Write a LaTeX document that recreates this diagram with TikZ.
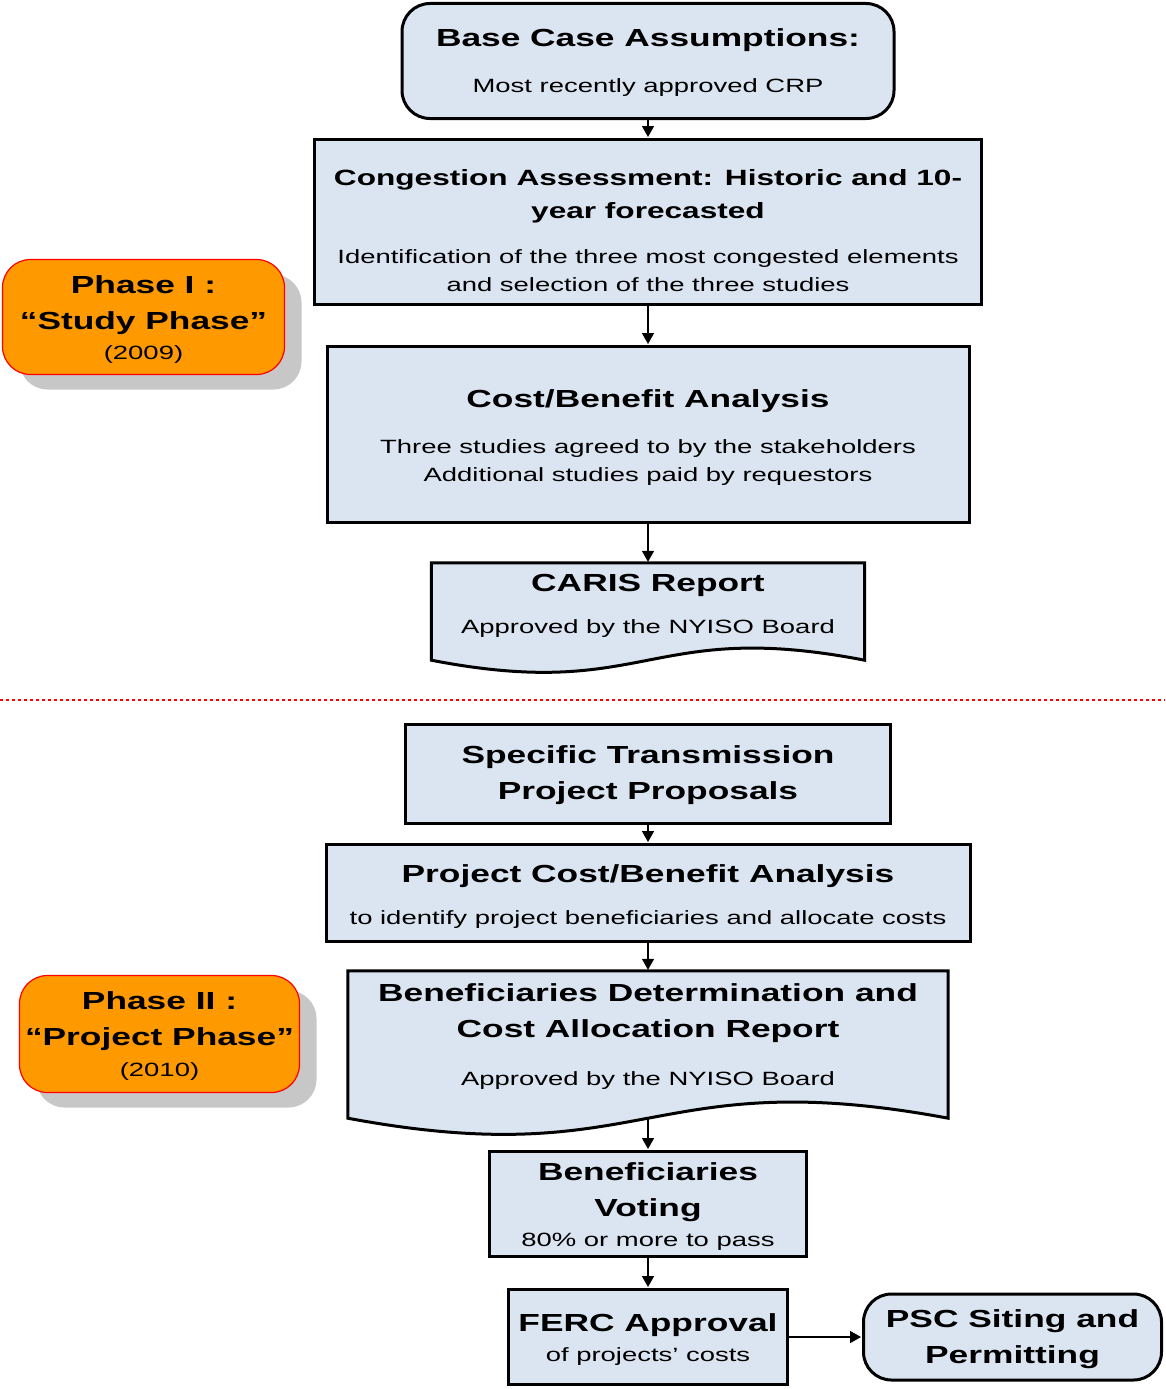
\documentclass[tikz,border=0pt]{standalone}
\usepackage{fontspec}
\setmainfont{Liberation Sans}[FakeStretch=1.43]
\usetikzlibrary{arrows.meta,shadows}

\definecolor{boxblue}{RGB}{219,229,241}
\definecolor{phaseorange}{RGB}{255,153,0}
\newcommand{\ttl}[1]{{\bfseries\fontsize{24.7}{36}\selectfont #1}}
\newcommand{\ttlsm}[1]{{\bfseries\fontsize{22.1}{33}\selectfont #1}}

\tikzset{
  box/.style={draw=black, line width=3pt, fill=boxblue, inner sep=0pt},
  roundbox/.style={box, rounded corners=28pt},
  docbox/.style={inner sep=0pt},
  docshape/.style={draw=black, line width=3pt, fill=boxblue},
  phasebox/.style={draw=red, line width=1.2pt, fill=phaseorange, rounded corners=28pt, inner sep=0pt,
    drop shadow={shadow xshift=17pt, shadow yshift=-15pt, fill=black!22, opacity=1}},
  txt/.style={align=center, inner sep=0pt, anchor=north, font=\fontsize{19.2}{28}\selectfont},
  arr/.style={-{Triangle[length=11pt,width=12pt]}, line width=1.5pt, shorten >=1pt},
  sepline/.style={red, line width=2pt, dash pattern=on 3pt off 3pt},
}

\begin{document}
\begin{tikzpicture}[x=1pt, y=-1pt]
  \useasboundingbox (0,0) rectangle (1165,1389);

  % --- phase labels ---
  \node[phasebox, minimum width=282pt, minimum height=115pt] (ph1) at (143.5,317) {};
  \node[phasebox, minimum width=280pt, minimum height=117pt] (ph2) at (159.5,1034) {};

  % --- study phase ---
  \node[roundbox, minimum width=492pt, minimum height=115pt] (base) at (648,61) {};
  \node[box, minimum width=667pt, minimum height=165pt] (cong) at (648,222) {};
  \node[box, minimum width=642pt, minimum height=176pt] (cba) at (648,434.5) {};
  \node[docbox, minimum width=433pt, minimum height=97pt] (caris) at (648,611.5) {};
  \draw[docshape] (caris.south west) -- (caris.north west) -- (caris.north east) -- (caris.south east)
    .. controls ([yshift=42pt]caris.south) and ([yshift=-42pt]caris.south) .. (caris.south west) -- cycle;

  % --- separator ---
  \draw[sepline] (0,700) -- (1165,700);

  % --- project phase ---
  \node[box, minimum width=485pt, minimum height=99pt] (spec) at (648,774) {};
  \node[box, minimum width=644pt, minimum height=97pt] (pcba) at (648,893) {};
  \node[docbox, minimum width=600pt, minimum height=147pt] (bdet) at (648,1044.5) {};
  \draw[docshape] (bdet.south west) -- (bdet.north west) -- (bdet.north east) -- (bdet.south east)
    .. controls ([yshift=56pt]bdet.south) and ([yshift=-56pt]bdet.south) .. (bdet.south west) -- cycle;
  \node[box, minimum width=317pt, minimum height=105pt] (vote) at (648,1204) {};
  \node[box, minimum width=279pt, minimum height=95pt] (ferc) at (648,1337) {};
  \node[roundbox, minimum width=298pt, minimum height=86pt] (psc) at (1012.5,1337) {};

  % --- texts ---
  \node[txt] (ph1-t) at (143.5,275) {\ttl{Phase I :}\\[8pt]\ttl{“Study Phase”}\\[2pt](2009)};
  \node[txt] (ph2-t) at (159.5,991) {\ttl{Phase II :}\\[8pt]\ttl{“Project Phase”}\\[3pt](2010)};
  \node[txt] (base-t) at (648,28) {\ttl{Base Case Assumptions:}\\[18pt]Most recently approved CRP};
  \node[txt] (cong-t) at (648,169) {\ttlsm{Congestion Assessment: Historic and 10-}\\[5pt]\ttlsm{year forecasted}\\[17pt]
    Identification of the three most congested elements\\and selection of the three studies};
  \node[txt] (cba-t) at (648,389) {\ttl{Cost/Benefit Analysis}\\[18pt]Three studies agreed to by the stakeholders\\Additional studies paid by requestors};
  \node[txt] (caris-t) at (648,574) {\ttl{CARIS Report}\\[14pt]Approved by the NYISO Board};
  \node[txt] (spec-t) at (648,745) {\ttl{Specific Transmission}\\[8pt]\ttl{Project Proposals}};
  \node[txt] (pcba-t) at (648,864) {\ttl{Project Cost/Benefit Analysis}\\[14pt]to identify project beneficiaries and allocate costs};
  \node[txt] (bdet-t) at (648,983) {\ttl{Beneficiaries Determination and}\\[8pt]\ttl{Cost Allocation Report}\\[20pt]Approved by the NYISO Board};
  \node[txt] (vote-t) at (648,1162) {\ttl{Beneficiaries}\\[8pt]\ttl{Voting}\\[2pt]80\% or more to pass};
  \node[txt] (ferc-t) at (648,1313) {\ttl{FERC Approval}\\[2pt]of projects’ costs};
  \node[txt] (psc-t) at (1012.5,1309) {\ttl{PSC Siting and}\\[8pt]\ttl{Permitting}};

  % --- arrows ---
  \draw[arr] (base) -- (cong);
  \draw[arr] (cong) -- (cba);
  \draw[arr] (cba) -- (caris);
  \draw[arr] (spec) -- (pcba);
  \draw[arr] (pcba) -- (bdet);
  \draw[arr] (bdet.south) -- (vote);
  \draw[arr] (vote) -- (ferc);
  \draw[arr] (ferc) -- (psc);
\end{tikzpicture}
\end{document}
